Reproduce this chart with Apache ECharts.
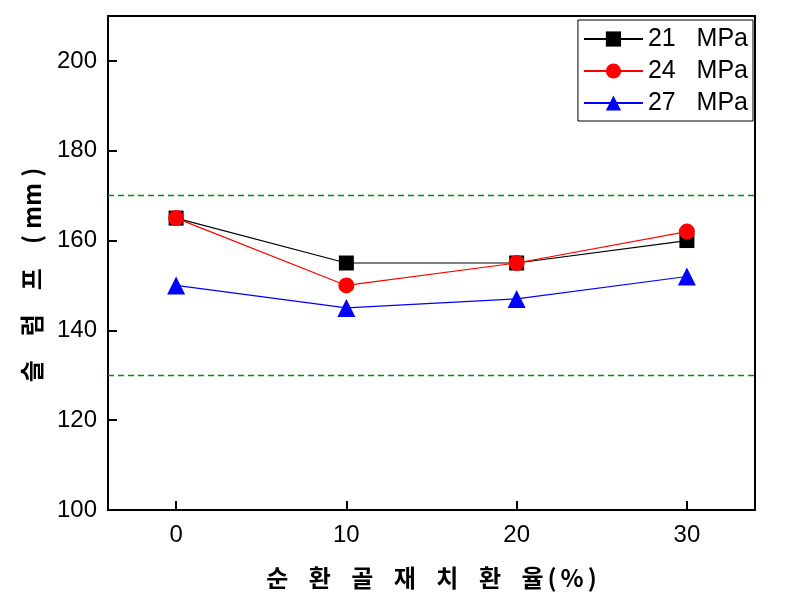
<!DOCTYPE html>
<html><head><meta charset="utf-8">
<script src="https://cdn.jsdelivr.net/npm/echarts@6/dist/echarts.min.js"></script>
<style>html,body{margin:0;padding:0;background:#fff}#c{width:798px;height:595px}</style>
</head><body><div id="c"></div>
<script>
const xValues = [0, 10, 20, 30];
const s21 = [165, 155, 155, 160];
const s24 = [165, 150, 155, 162];
const s27 = [150, 145, 147, 152];
const seriesNames = ['21 MPa', '24 MPa', '27 MPa'];
const yTicks = [100, 120, 140, 160, 180, 200];
const refLines = [170, 130];

const chart = echarts.init(document.getElementById('c'));
const pairs = arr => xValues.map((x, i) => [x, arr[i]]);
const font = 'Liberation Sans, Arial, sans-serif';
const refStyle = { color: '#009000', type: [6, 4], width: 1.4, opacity: 1 };
const g = '\u2002\u200A\u200A ';
chart.setOption({
  animation: false,
  grid: { left: 108, right: 43, top: 16, bottom: 85, show: true, borderColor: '#000', borderWidth: 2 },
  legend: {
    right: 45, top: 20, orient: 'vertical', itemWidth: 59, itemHeight: 19, itemGap: 6,
    backgroundColor: '#fff', borderColor: '#000', borderWidth: 1, padding: [6, 5, 5, 5],
    textStyle: { fontFamily: font, fontSize: 25, lineHeight: 26, color: '#000' },
    formatter: n => n.replace(' ', '   '),
    data: seriesNames
  },
  xAxis: {
    type: 'value', min: -4, max: 34,
    name: ['순', '환', '골', '재', '치', '환', '율'].join(g) + '\u2006(\u2006%\u2006)', nameLocation: 'middle', nameGap: 56,
    nameTextStyle: { fontFamily: 'Noto Sans CJK KR', fontWeight: 'bold', fontSize: 24, color: '#000' },
    axisLine: { show: true, onZero: false, lineStyle: { color: '#000', width: 2 } },
    axisTick: { show: true, inside: true, length: 9, lineStyle: { color: '#000', width: 2 }, customValues: xValues },
    axisLabel: { fontFamily: font, fontSize: 24, color: '#000', margin: 13, customValues: xValues },
    splitLine: { show: false }
  },
  yAxis: {
    type: 'value', min: 100, max: 210,
    name: '슬\u3000럼\u3000프\u3000(\u2005mm\u2005)\u3000', nameLocation: 'middle', nameGap: 64,
    nameTextStyle: { fontFamily: 'Noto Sans CJK KR', fontWeight: 'bold', fontSize: 24, color: '#000' },
    axisLine: { show: true, onZero: false, lineStyle: { color: '#000', width: 2 } },
    axisTick: { show: true, inside: true, length: 9, lineStyle: { color: '#000', width: 2 }, customValues: yTicks },
    axisLabel: { fontFamily: font, fontSize: 24, color: '#000', margin: 11, customValues: yTicks },
    splitLine: { show: false }
  },
  series: [
    {
      name: seriesNames[0], type: 'line', data: pairs(s21), symbol: 'rect', symbolSize: 15,
      itemStyle: { color: '#000' }, lineStyle: { color: '#000', width: 1.2 }, z: 3,
      markLine: {
        silent: true, symbol: 'none', label: { show: false },
        lineStyle: refStyle,
        emphasis: { disabled: true },
        data: refLines.map(v => ({ yAxis: v, lineStyle: refStyle }))
      }
    },
    {
      name: seriesNames[1], type: 'line', data: pairs(s24), symbol: 'circle', symbolSize: 16,
      itemStyle: { color: '#ff0000' }, lineStyle: { color: '#ff0000', width: 1.2 }, z: 4
    },
    {
      name: seriesNames[2], type: 'line', data: pairs(s27), symbol: 'triangle', symbolSize: 18,
      itemStyle: { color: '#0000ff' }, lineStyle: { color: '#0000ff', width: 1.2 }, z: 5
    }
  ]
});
</script></body></html>
